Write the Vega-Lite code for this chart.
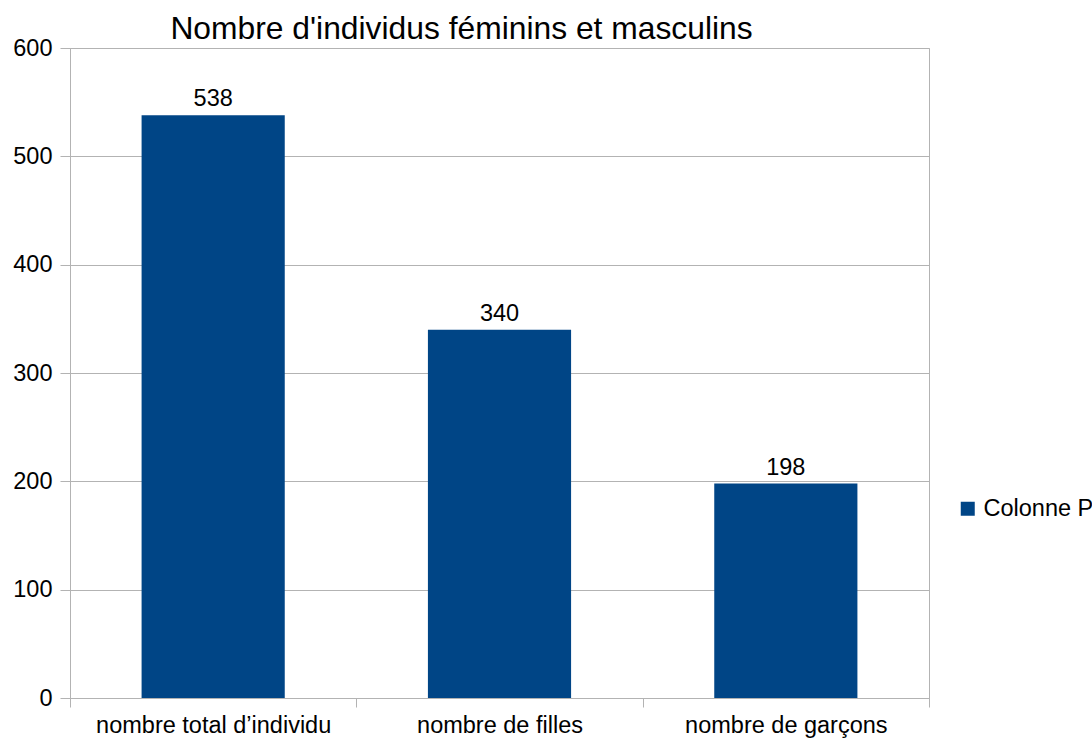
{
  "$schema": "https://vega.github.io/schema/vega-lite/v6.json",
  "width": 859,
  "height": 650,
  "autosize": {"type": "none"},
  "padding": {"left": 70, "top": 48, "right": 163, "bottom": 42},
  "background": "white",
  "config": {
    "font": "Liberation Sans",
    "view": {"stroke": "#b3b3b3", "strokeWidth": 1}
  },
  "title": {
    "text": "Nombre d'individus féminins et masculins",
    "fontSize": 31.8,
    "fontWeight": "normal",
    "color": "black",
    "font": "Liberation Sans",
    "anchor": "middle",
    "dx": -38,
    "dy": 14
  },
  "data": {
    "values": [
      {"categorie": "nombre total d’individu", "valeur": 538, "serie": "Colonne P"},
      {"categorie": "nombre de filles", "valeur": 340, "serie": "Colonne P"},
      {"categorie": "nombre de garçons", "valeur": 198, "serie": "Colonne P"}
    ]
  },
  "encoding": {
    "x": {
      "field": "categorie",
      "type": "nominal",
      "sort": null,
      "scale": {"paddingInner": 0, "paddingOuter": 0},
      "axis": {
        "title": null,
        "labelAngle": 0,
        "labelFontSize": 23.5,
        "labelColor": "black",
        "labelFont": "Liberation Sans",
        "labelPadding": 6,
        "labelLimit": 0,
        "tickBand": "extent",
        "tickSize": 9,
        "tickColor": "#b3b3b3",
        "domainColor": "#b3b3b3",
        "grid": false,
        "labelBaseline": "top"
      }
    },
    "y": {
      "field": "valeur",
      "type": "quantitative",
      "scale": {"domain": [0, 600], "nice": false},
      "axis": {
        "title": null,
        "values": [0, 100, 200, 300, 400, 500, 600],
        "labelFontSize": 23.5,
        "labelColor": "black",
        "labelFont": "Liberation Sans",
        "labelPadding": 8,
        "tickSize": 10,
        "tickColor": "#b3b3b3",
        "domainColor": "#b3b3b3",
        "gridColor": "#b3b3b3",
        "grid": true
      }
    }
  },
  "layer": [
    {
      "mark": {"type": "bar", "width": {"band": 0.5}},
      "encoding": {
        "color": {
          "field": "serie",
          "type": "nominal",
          "scale": {"range": ["#004586"]},
          "legend": {
            "title": null,
            "orient": "none",
            "legendX": 886,
            "legendY": 449,
            "padding": 0,
            "symbolType": "square",
            "symbolSize": 196,
            "symbolStrokeWidth": 0,
            "labelFontSize": 23.5,
            "labelColor": "black",
            "labelFont": "Liberation Sans",
            "labelLimit": 0,
            "labelOffset": 4
          }
        }
      }
    },
    {
      "mark": {"type": "text", "dy": -9, "baseline": "alphabetic", "fontSize": 23.5, "color": "black", "font": "Liberation Sans"},
      "encoding": {
        "text": {"field": "valeur", "type": "quantitative"}
      }
    }
  ]
}
